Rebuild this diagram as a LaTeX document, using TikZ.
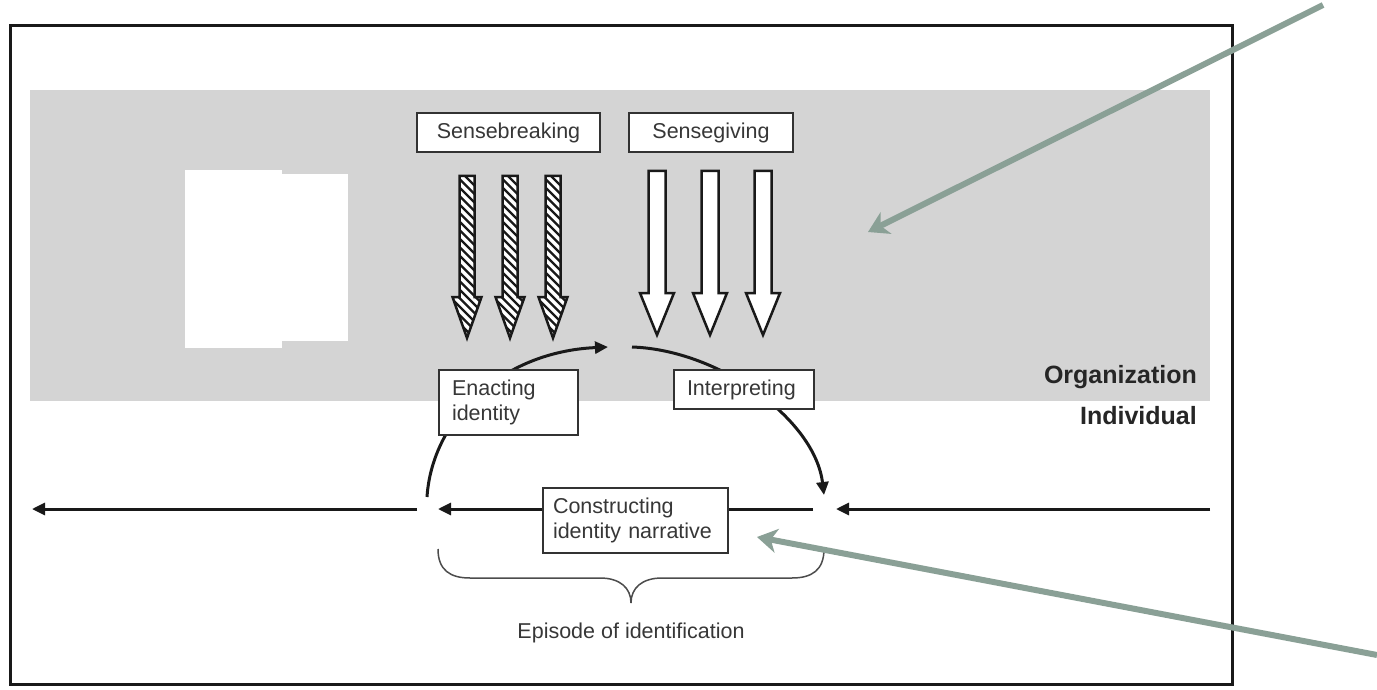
\documentclass[tikz,border=0pt]{standalone}
\usepackage{fontspec}
\setmainfont{Liberation Sans}
\usetikzlibrary{arrows.meta}
\definecolor{bandgray}{RGB}{212,212,212}
\definecolor{boxline}{RGB}{50,50,50}
\definecolor{txt}{RGB}{55,55,55}
\definecolor{pointer}{RGB}{138,160,150}
\tikzset{
  lbl/.style={draw=boxline, line width=1.5pt, fill=white, text=txt, inner sep=0pt,
    font=\fontsize{21.5}{25}\selectfont},
  flow/.style={draw=black!90, line width=3pt, -{Triangle[length=13pt,width=12pt]}},
  pointerarrow/.style={draw=pointer, line width=6pt, line cap=butt,
    -{Stealth[length=20pt,width=24pt,inset=6pt]}},
  bigarrow/.style={draw=black!90, line width=2.5pt, line join=miter},
}
\begin{document}
\begin{tikzpicture}[x=1pt,y=-1pt]
\useasboundingbox (0,0) rectangle (1377,690);
\fill[white] (0,0) rectangle (1377,690);
% organisation band
\fill[bandgray] (30,90) rectangle (1210,401);
% white blanks
\fill[white] (185,170) rectangle (282,348);
\fill[white] (282,174) rectangle (348,341);
% outer frame
\draw[line width=3pt, draw=black!90] (10,26) rectangle (1232,684);

% labels top
\node[lbl, minimum width=183pt, minimum height=39pt] (sb) at (508.5,132.5) {Sensebreaking};
\node[lbl, minimum width=164pt, minimum height=39pt] (sg) at (711,132.5) {Sensegiving};

% hatched arrows
\foreach \cx in {467,510,553}{
  \begin{scope}
    \clip (\cx-7.5,176) -- (\cx+7.5,176) -- (\cx+7.5,297) -- (\cx+14.5,297) -- (\cx,338) -- (\cx-14.5,297) -- (\cx-7.5,297) -- cycle;
    \fill[white] (\cx-20,170) rectangle (\cx+20,345);
    \foreach \k in {0,...,22}{
      \draw[line width=2.3pt, black!90] (\cx-20,158+\k*8.5) -- (\cx+20,198+\k*8.5);
    }
  \end{scope}
  \draw[bigarrow] (\cx-7.5,176) -- (\cx+7.5,176) -- (\cx+7.5,297) -- (\cx+14.5,297) -- (\cx,338) -- (\cx-14.5,297) -- (\cx-7.5,297) -- cycle;
}
% white arrows
\foreach \cx in {657,710,763}{
  \draw[bigarrow, fill=white] (\cx-8.5,171) -- (\cx+8.5,171) -- (\cx+8.5,293) -- (\cx+17,293) -- (\cx,335) -- (\cx-17,293) -- (\cx-8.5,293) -- cycle;
}

% coordinates
\coordinate (a1) at (427,497);
\coordinate (a2) at (608,347);
\coordinate (a3) at (632,347);
\coordinate (a4) at (824,495);
\coordinate (rS) at (1210,509);
\coordinate (rT) at (836,509);
\coordinate (mS) at (813,509);
\coordinate (mT) at (438,509);
\coordinate (lS) at (417,509);
\coordinate (lT) at (32,509);

% cycle arcs
\draw[flow] (a1) .. controls (432,420) and (500,352) .. (a2);
\draw[flow] (a3) .. controls (720,350) and (815,420) .. (a4);

% time line
\draw[flow] (rS) -- (rT);
\draw[flow] (mS) -- (mT);
\draw[flow] (lS) -- (lT);

% process boxes
\node[lbl, minimum width=139pt, minimum height=65pt, text width=113pt, align=left] (en) at (508.5,402.5) {Enacting\\identity};
\node[lbl, minimum width=140pt, minimum height=39pt, text width=114pt, align=left] (ip) at (744,389.5) {Interpreting};
\node[lbl, minimum width=185pt, minimum height=65pt, text width=165pt, align=left] (ci) at (635.5,520.5) {Constructing\\identity narrative};

% brace
\coordinate (bL) at (438,549);
\coordinate (bR) at (824,549);
\coordinate (bT) at (631,603);
\draw[draw=black!70, line width=1.5pt] (bL) .. controls (438,570) and (450,578) .. (470,578)
  -- (600,578) .. controls (620,578) and (631,588) .. (bT)
  .. controls (631,588) and (642,578) .. (662,578)
  -- (792,578) .. controls (812,578) and (824,570) .. (bR);
\node[text=txt, font=\fontsize{21.5}{25}\selectfont] (ep) at (631,633) {Episode of identification};

% level labels
\node[anchor=east, inner sep=0pt, font=\fontsize{25}{29}\bfseries\selectfont, text=black!85] (org) at (1197,377) {Organization};
\node[anchor=east, inner sep=0pt, font=\fontsize{25}{29}\bfseries\selectfont, text=black!85] (ind) at (1197,416) {Individual};

% pointer arrows
\coordinate (p1s) at (1323,5);
\coordinate (p1t) at (868,232);
\coordinate (p2s) at (1377,655);
\coordinate (p2t) at (757,537);
\draw[pointerarrow] (p1s) -- (p1t);
\draw[pointerarrow] (p2s) -- (p2t);
\end{tikzpicture}
\end{document}
